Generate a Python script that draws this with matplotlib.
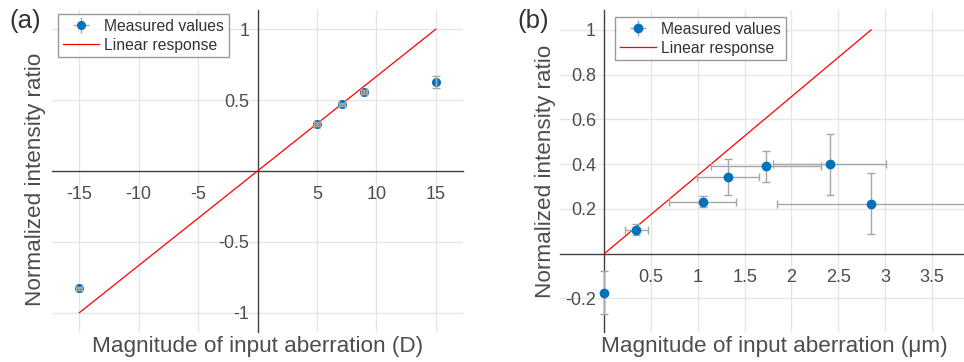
import matplotlib
matplotlib.use("Agg")
import matplotlib.pyplot as plt
import numpy as np

plt.rcParams['font.family'] = ['Liberation Sans', 'DejaVu Sans']

# Panel (a) data
a_x = [-15, 5, 7.1, 9, 15]
a_y = [-0.828, 0.332, 0.47, 0.56, 0.628]
a_xerr = [0.25, 0.25, 0.25, 0.25, 0.0]
a_yerr = [0.012, 0.012, 0.012, 0.015, 0.045]
a_line_x = [-15, 15]
a_line_y = [-1, 1]
a_xticks = [-15, -10, -5, 5, 10, 15]
a_yticks = [-1, -0.5, 0.5, 1]
a_yticklabels = ['-1', '-0.5', '0.5', '1']

# Panel (b) data
b_x = [0.0, 0.342, 1.051, 1.318, 1.728, 2.408, 2.85]
b_y = [-0.174, 0.107, 0.232, 0.344, 0.39, 0.399, 0.223]
b_xerr = [0.0, 0.12, 0.356, 0.33, 0.59, 0.605, 1.0]
b_yerr = [0.095, 0.025, 0.025, 0.08, 0.069, 0.138, 0.136]
b_line_x = [0, 2.85]
b_line_y = [0, 1]
b_xticks = [0.5, 1, 1.5, 2, 2.5, 3, 3.5]
b_xticklabels = ['0.5', '1', '1.5', '2', '2.5', '3', '3.5']
b_yticks = [-0.2, 0.2, 0.4, 0.6, 0.8, 1]
b_yticklabels = ['-0.2', '0.2', '0.4', '0.6', '0.8', '1']

BLUE = '#0072BD'
GRAY = '#a6a6a6'
TXT = '#4d4d4d'
SPINE = '#404040'
GRID = '#e6e6e6'

fig = plt.figure(figsize=(9.64, 3.62), dpi=100)
axa = fig.add_axes([52/964, 30/362, 411/964, 322/362])
axb = fig.add_axes([560/964, 30/362, 404/964, 322/362])


def style(ax):
    for s in ['top', 'right']:
        ax.spines[s].set_visible(False)
    ax.spines['left'].set_position(('data', 0))
    ax.spines['bottom'].set_position(('data', 0))
    for s in ['left', 'bottom']:
        ax.spines[s].set_color(SPINE)
        ax.spines[s].set_linewidth(1.0)
    ax.grid(True, color=GRID, linewidth=1.0, zorder=0)
    ax.set_axisbelow(True)
    ax.tick_params(axis='both', length=0, labelsize=13, colors=TXT)
    ax.tick_params(axis='x', pad=11)
    ax.tick_params(axis='y', pad=6)


def make_legend(ax, h1, h2, anchor):
    leg = ax.legend([h1, h2], ['Measured values', 'Linear response'], loc='upper left',
                    bbox_to_anchor=anchor, fontsize=11.3, frameon=True, fancybox=False,
                    borderpad=0.3, handlelength=2.3, handletextpad=0.35, labelspacing=0.25,
                    borderaxespad=0)
    leg.get_frame().set_edgecolor('#808080')
    leg.get_frame().set_linewidth(1.0)
    for t in leg.get_texts():
        t.set_color('#333333')
    return leg


# Panel (a)
style(axa)
hl = axa.plot(a_line_x, a_line_y, color='#ff0000', lw=0.9, zorder=3)[0]
axa.plot(a_x, a_y, 'o', color=BLUE, ms=5.5, zorder=4)
axa.errorbar(a_x, a_y, xerr=a_xerr, yerr=a_yerr, fmt='none', ecolor=GRAY,
             elinewidth=1.0, capsize=3, zorder=5)
h_meas = axa.errorbar([], [], xerr=[], yerr=[], fmt='o', color=BLUE, ms=5.5,
                      ecolor=GRAY, elinewidth=1.0, capsize=3)
axa.set_xlim(-17.3, 17.3)
axa.set_ylim(-1.136, 1.136)
axa.set_xticks(a_xticks)
axa.set_xticklabels([str(v) for v in a_xticks])
axa.set_yticks(a_yticks)
axa.set_yticklabels(a_yticklabels)
make_legend(axa, h_meas, hl, (6/411, 1 - 4/322))
axa.text(0.5, -0.045, 'Magnitude of input aberration (D)', transform=axa.transAxes,
         ha='center', va='center', fontsize=16.2, color=TXT)
axa.text(-0.041, 0.475, 'Normalized intensity ratio', transform=axa.transAxes,
         ha='center', va='center', rotation=90, fontsize=16.2, color=TXT)
fig.text(25/964, 1 - 21/362, '(a)', ha='center', va='center', fontsize=18.5, color='#333333')

# Panel (b)
style(axb)
hl2 = axb.plot(b_line_x, b_line_y, color='#ff0000', lw=0.9, zorder=3)[0]
axb.errorbar(b_x, b_y, xerr=b_xerr, yerr=b_yerr, fmt='none', ecolor=GRAY,
             elinewidth=1.0, capsize=3, zorder=4)
axb.plot(b_x, b_y, 'o', color=BLUE, ms=6, zorder=5)
axb.set_xlim(-0.473, 3.843)
axb.set_ylim(-0.35, 1.089)
axb.set_xticks(b_xticks)
axb.set_xticklabels(b_xticklabels)
axb.set_yticks(b_yticks)
axb.set_yticklabels(b_yticklabels)
h_meas2 = axb.errorbar([], [], xerr=[], yerr=[], fmt='o', color=BLUE, ms=6,
                       ecolor=GRAY, elinewidth=1.0, capsize=3)
make_legend(axb, h_meas2, hl2, (55/404, 1 - 7/322))
axb.text(0.53, -0.045, 'Magnitude of input aberration (μm)', transform=axb.transAxes,
         ha='center', va='center', fontsize=16.2, color=TXT)
axb.text(-0.037, 0.5, 'Normalized intensity ratio', transform=axb.transAxes,
         ha='center', va='center', rotation=90, fontsize=16.2, color=TXT)
fig.text(533/964, 1 - 21/362, '(b)', ha='center', va='center', fontsize=18.5, color='#333333')

fig.savefig('out.png', dpi=100)
